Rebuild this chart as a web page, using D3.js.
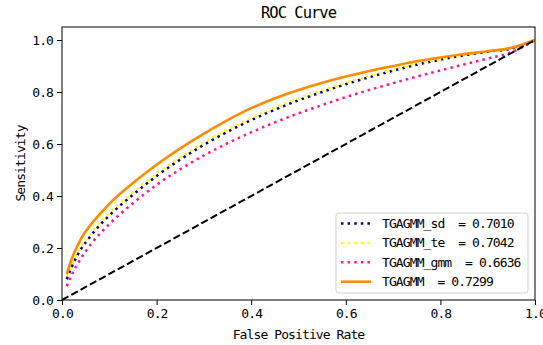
<!DOCTYPE html>
<html>
<head>
<meta charset="utf-8">
<script src="https://cdn.jsdelivr.net/npm/d3@7"></script>
<style>
  body { margin: 0; background: #fff; }
  text { font-family: "DejaVu Sans Mono", monospace; white-space: pre; }
</style>
</head>
<body>
<div id="chart"></div>
<script>
// false positive rate grid shared by all curves
const fpr = [0, 0.01, 0.02, 0.04, 0.06, 0.08, 0.1, 0.15, 0.2, 0.25, 0.3, 0.35, 0.4, 0.45,
  0.5, 0.55, 0.6, 0.65, 0.7, 0.75, 0.8, 0.85, 0.9, 0.95, 1.0];

// sensitivity of each model (first point skipped, curves start at fpr 0.01)
const tprSd = [null, 0.08, 0.125, 0.195, 0.245, 0.288, 0.325, 0.405, 0.477, 0.54, 0.597, 0.647, 0.692,
  0.732, 0.768, 0.8, 0.83, 0.857, 0.882, 0.905, 0.924, 0.941, 0.955, 0.967, 1.0];
const tprTe = [null, 0.095, 0.138, 0.205, 0.255, 0.297, 0.334, 0.414, 0.486, 0.549, 0.606, 0.656, 0.7,
  0.74, 0.776, 0.807, 0.836, 0.862, 0.886, 0.908, 0.926, 0.942, 0.956, 0.968, 1.0];
const tprGmm = [null, 0.053, 0.095, 0.16, 0.212, 0.255, 0.292, 0.372, 0.443, 0.503, 0.556, 0.603, 0.645,
  0.683, 0.718, 0.75, 0.78, 0.808, 0.834, 0.859, 0.883, 0.906, 0.929, 0.953, 1.0];
const tprTgagmm = [null, 0.1, 0.155, 0.235, 0.288, 0.33, 0.37, 0.45, 0.52, 0.583, 0.64, 0.692, 0.738,
  0.776, 0.808, 0.836, 0.86, 0.881, 0.9, 0.918, 0.933, 0.946, 0.957, 0.97, 1.0];

const labels = ["TGAGMM_sd", "TGAGMM_te", "TGAGMM_gmm", "TGAGMM"];
const aucs = [0.7010, 0.7042, 0.6636, 0.7299];
const ticks = [0, 0.2, 0.4, 0.6, 0.8, 1.0];

const width = 543, height = 345;
const margin = { top: 27, right: 8, bottom: 45, left: 62 };

const svg = d3.select("#chart").append("svg")
  .attr("width", width)
  .attr("height", height);

const x = d3.scaleLinear().domain([0, 1]).range([margin.left, width - margin.right]);
const y = d3.scaleLinear().domain([0, 1.05]).range([height - margin.bottom, margin.top]);

// axes
const xAxis = svg.append("g")
  .attr("transform", "translate(0," + (height - margin.bottom) + ")")
  .call(d3.axisBottom(x).tickValues(ticks).tickFormat(d3.format(".1f")).tickSize(5).tickPadding(4));
const yAxis = svg.append("g")
  .attr("transform", "translate(" + margin.left + ",0)")
  .call(d3.axisLeft(y).tickValues(ticks).tickFormat(d3.format(".1f")).tickSize(5).tickPadding(4));

[xAxis, yAxis].forEach(g => {
  g.select(".domain").remove();
  g.selectAll("text")
    .style("font-family", "DejaVu Sans Mono")
    .style("font-size", "13px")
    .style("letter-spacing", "-0.9px")
    .attr("fill", "#000");
  g.selectAll("line").attr("stroke", "#000");
});

const series = [
  { tpr: tprSd, color: "#00008b", dash: "2.5,4.1", w: 2.5 },
  { tpr: tprTe, color: "#ffff00", dash: "2.5,4.1", w: 2.5 },
  { tpr: tprGmm, color: "#ff1493", dash: "2.5,4.1", w: 2.5 },
  { tpr: tprTgagmm, color: "#ff8c00", dash: null, w: 2.6 }
];

svg.append("clipPath").attr("id", "clip").append("rect")
  .attr("x", x(0)).attr("y", y(1.05))
  .attr("width", x(1) - x(0)).attr("height", y(0) - y(1.05));

const line = d3.line()
  .defined(d => d[1] != null)
  .x(d => x(d[0]))
  .y(d => y(d[1]))
  .curve(d3.curveMonotoneX);

const plot = svg.append("g").attr("clip-path", "url(#clip)");

series.forEach(s => {
  plot.append("path")
    .datum(fpr.map((f, i) => [f, s.tpr[i]]))
    .attr("d", line)
    .attr("fill", "none")
    .attr("stroke", s.color)
    .attr("stroke-width", s.w)
    .attr("stroke-dasharray", s.dash);
});

// chance diagonal
plot.append("path")
  .datum([[0, 0], [1, 1]])
  .attr("d", d3.line().x(d => x(d[0])).y(d => y(d[1])))
  .attr("stroke", "#000")
  .attr("stroke-width", 2)
  .attr("stroke-dasharray", "7.4,3.2");

// frame
svg.append("rect")
  .attr("x", x(0)).attr("y", y(1.05))
  .attr("width", x(1) - x(0)).attr("height", y(0) - y(1.05))
  .attr("fill", "none")
  .attr("stroke", "#000")
  .attr("stroke-width", 1);

// titles
svg.append("text")
  .attr("x", (x(0) + x(1)) / 2).attr("y", 13)
  .attr("dy", "0.35em")
  .attr("text-anchor", "middle")
  .style("font-size", "15.5px")
  .style("letter-spacing", "-1px")
  .text("ROC Curve");

svg.append("text")
  .attr("x", (x(0) + x(1)) / 2).attr("y", 334)
  .attr("dy", "0.35em")
  .attr("text-anchor", "middle")
  .style("font-size", "13px")
  .style("letter-spacing", "-0.9px")
  .text("False Positive Rate");

svg.append("text")
  .attr("transform", "translate(20," + (y(0) + y(1.05)) / 2 + ") rotate(-90)")
  .attr("dy", "0.35em")
  .attr("text-anchor", "middle")
  .style("font-size", "13px")
  .style("letter-spacing", "-0.9px")
  .text("Sensitivity");

// legend
const legend = svg.append("g").attr("transform", "translate(336,213)");
legend.append("rect")
  .attr("width", 192).attr("height", 80)
  .attr("rx", 3)
  .attr("fill", "#fff").attr("fill-opacity", 0.8)
  .attr("stroke", "#d0d0d0");

series.forEach((s, i) => {
  const row = legend.append("g").attr("transform", "translate(0," + (10.5 + i * 19.4) + ")");
  row.append("line")
    .attr("x1", 5).attr("x2", 35)
    .attr("stroke", s.color)
    .attr("stroke-width", s.w)
    .attr("stroke-dasharray", s.dash);
  row.append("text")
    .attr("x", 46)
    .attr("dy", "0.35em")
    .style("font-size", "13px")
    .style("letter-spacing", "-0.9px")
    .text(labels[i] + "  = " + aucs[i].toFixed(4));
});
</script>
</body>
</html>
